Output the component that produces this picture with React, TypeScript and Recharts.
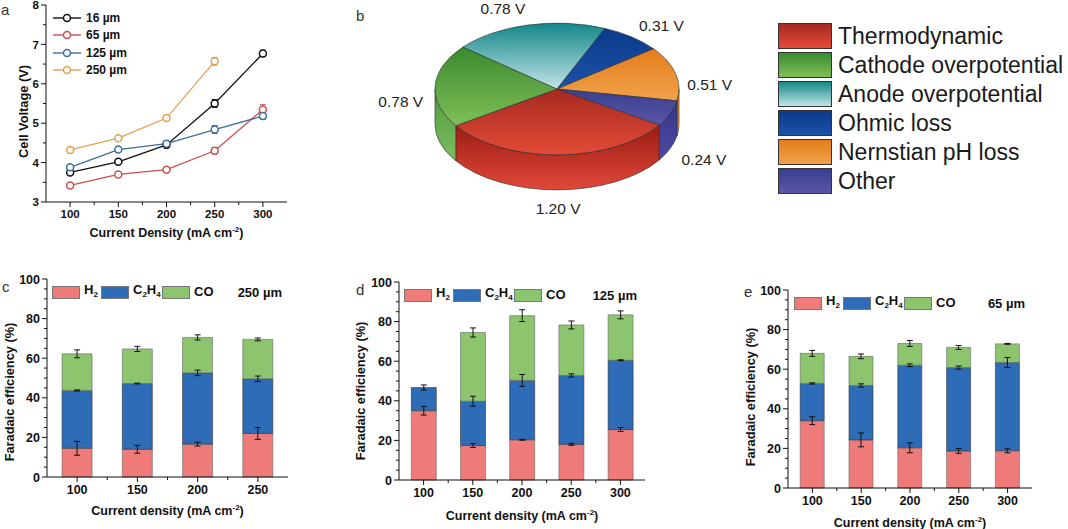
import React from "react";
import {
  LineChart,
  Line,
  BarChart,
  Bar,
  PieChart,
  Pie,
  XAxis,
  YAxis,
  ErrorBar,
  Legend,
} from "recharts";

const FONT = "'Liberation Sans', Arial, Helvetica, sans-serif";
const INK = "#111";
const FRAME = "#999";

// ---- panel a: cell voltage vs current density
const currentA = [100, 150, 200, 250, 300];
const volt16 = [3.75, 4.02, 4.45, 5.5, 6.77];
const err16 = [0.03, 0.03, 0.03, 0.1, 0.08];
const volt65 = [3.42, 3.7, 3.82, 4.3, 5.35];
const err65 = [0.03, 0.03, 0.05, 0.08, 0.12];
const volt125 = [3.88, 4.33, 4.48, 4.84, 5.18];
const err125 = [0.03, 0.03, 0.07, 0.1, 0.08];
const volt250 = [4.32, 4.62, 5.13, 6.57, null];
const err250 = [0.03, 0.03, 0.03, 0.1, null];
const voltTicksX = [100, 125, 150, 175, 200, 225, 250, 275, 300];
const voltTicksY = [3, 3.5, 4, 4.5, 5, 5.5, 6, 6.5, 7, 7.5, 8];

// ---- panel b: voltage breakdown
const lossNames = [
  "Thermodynamic",
  "Cathode overpotential",
  "Anode overpotential",
  "Ohmic loss",
  "Nernstian pH loss",
  "Other",
];
const lossVolts = [1.2, 0.78, 0.78, 0.31, 0.51, 0.24];

// ---- panels c-e: faradaic efficiency
const feTicks = [0, 5, 10, 15, 20, 25, 30, 35, 40, 45, 50, 55, 60, 65, 70, 75, 80, 85, 90, 95, 100];

const cd250 = ["100", "150", "200", "250"];
const h2_250 = [14.5, 14, 16.6, 22];
const c2h4_250 = [29.2, 33.2, 36, 27.6];
const co_250 = [18.5, 17.5, 17.9, 19.9];
const h2Err250 = [3.5, 2, 1, 3];
const c2h4Err250 = [0.3, 0.2, 1.4, 1.4];
const coErr250 = [2, 1.3, 1.3, 0.7];

const cd125 = ["100", "150", "200", "250", "300"];
const h2_125 = [35, 17.4, 20.3, 18, 25.5];
const c2h4_125 = [11.7, 22.4, 30, 34.8, 35];
const co_125 = [0, 34.7, 32.7, 25.5, 22.9];
const h2Err125 = [2.2, 1, 0.2, 0.5, 1];
const c2h4Err125 = [1.3, 2.5, 3, 0.8, 0.2];
const coErr125 = [0, 2.3, 3, 2, 2];

const cd65 = ["100", "150", "200", "250", "300"];
const h2_65 = [34, 24.3, 20.3, 18.7, 18.8];
const c2h4_65 = [18.8, 27.5, 41.7, 42.1, 44.6];
const co_65 = [15.2, 14.7, 11, 10.2, 9.4];
const h2Err65 = [2, 3.5, 2.5, 1.2, 1];
const c2h4Err65 = [0.3, 0.8, 0.7, 0.8, 2.5];
const coErr65 = [1.5, 1.2, 1.5, 1, 0.2];

const voltRows = currentA.map((c, i) => ({
  c,
  v16: volt16[i], e16: err16[i],
  v65: volt65[i], e65: err65[i],
  v125: volt125[i], e125: err125[i],
  v250: volt250[i], e250: err250[i],
}));

const lineSeries = [
  { key: "v16", err: "e16", name: "16 µm", color: "#111111" },
  { key: "v65", err: "e65", name: "65 µm", color: "#c9504e" },
  { key: "v125", err: "e125", name: "125 µm", color: "#3c6d9f" },
  { key: "v250", err: "e250", name: "250 µm", color: "#e2a04f" },
];

// [top/dark, bottom/light] for top face, and side wall
const PIE_TOP = [
  ["#a52a20", "#e44a37"],
  ["#3b8a30", "#7fbf57"],
  ["#138788", "#c2e4e7"],
  ["#0b3a8a", "#1c52aa"],
  ["#e47c1b", "#f0a24a"],
  ["#393f8f", "#5b56a8"],
];
const PIE_SIDE = [
  ["#9c1c12", "#e0483a"],
  ["#4f9a3c", "#7cbd60"],
  ["#138788", "#6fc0c4"],
  ["#0b3a8a", "#1c52aa"],
  ["#d87418", "#ef9a40"],
  ["#34368a", "#4e4aa2"],
];

const FE_COLORS = { h2: "#ee7b79", c2h4: "#2e6cb7", co: "#8dc46e" };

const makeFeRows = (cd: string[], h2: number[], c2h4: number[], co: number[], eh: number[], ec: number[], eo: number[]) =>
  cd.map((v, i) => ({ cd: v, h2: h2[i], c2h4: c2h4[i], co: co[i], eh2: eh[i], ec2h4: ec[i], eco: eo[i] }));

// ---- shared axis helpers
const xTick = (fontSize: number, isMajor: (v: number) => boolean, half = 0, n = 0) => (p: any) => {
  const { x, y, payload, index } = p;
  const ay = y - 7;
  const major = isMajor(Number(payload.value));
  return (
    <g>
      <line x1={x} x2={x} y1={ay} y2={ay + (major ? 5 : 3)} stroke={INK} />
      {half > 0 && index < n - 1 && <line x1={x + half} x2={x + half} y1={ay} y2={ay + 3} stroke={INK} />}
      {major && (
        <text x={x} y={ay + 7} dy="0.78em" textAnchor="middle" fontSize={fontSize} fontWeight={700} fill={INK} fontFamily={FONT}>
          {payload.value}
        </text>
      )}
    </g>
  );
};

const yTick = (fontSize: number, isMajor: (v: number) => boolean) => (p: any) => {
  const { x, y, payload } = p;
  const ax = x + 7;
  const major = isMajor(Number(payload.value));
  return (
    <g>
      <line x1={ax} x2={ax - (major ? 5 : 3)} y1={y} y2={y} stroke={INK} />
      {major && (
        <text x={ax - 7} y={y} dy="0.36em" textAnchor="end" fontSize={fontSize} fontWeight={700} fill={INK} fontFamily={FONT}>
          {payload.value}
        </text>
      )}
    </g>
  );
};

const xTitle = (text: string, dy: number) => (props: any) => {
  const vb = props.viewBox;
  const x = vb.x + vb.width / 2;
  const y = vb.y + dy;
  return (
    <text x={x} y={y} dy="0.36em" textAnchor="middle" fontSize={12.5} fontWeight={700} fill={INK} fontFamily={FONT}>
      {text} (mA cm<tspan dy={-5} fontSize={8}>-2</tspan>
      <tspan dy={5}>)</tspan>
    </text>
  );
};

const yTitle = (text: string, dx: number, dy: number) => (props: any) => {
  const vb = props.viewBox;
  const x = vb.x + dx;
  const y = vb.y + vb.height / 2 + dy;
  return (
    <text x={x} y={y} dy="0.36em" transform={`rotate(-90 ${x} ${y})`} textAnchor="middle" fontSize={12.8} fontWeight={700} fill={INK} fontFamily={FONT}>
      {text}
    </text>
  );
};

// ---- panel a legend
const VoltLegend = () => (
  <div style={{ display: "flex", flexDirection: "column" }}>
    {lineSeries.map((s) => (
      <div key={s.key} style={{ display: "flex", alignItems: "center", height: 17.5 }}>
        <svg width={28} height={10}>
          <line x1={0} x2={28} y1={5} y2={5} stroke={s.color} strokeWidth={1.4} />
          <circle cx={14} cy={5} r={3.5} fill="#fff" stroke={s.color} strokeWidth={1.5} />
        </svg>
        <span style={{ marginLeft: 5, fontSize: 12, fontWeight: 700, fontFamily: FONT, color: INK }}>{s.name}</span>
      </div>
    ))}
  </div>
);

function VoltagePanel() {
  return (
    <LineChart width={300} height={245} data={voltRows} margin={{ top: 5, right: 13, bottom: 0, left: 0 }}>
      <XAxis
        dataKey="c"
        type="number"
        domain={[75, 325]}
        ticks={voltTicksX}
        interval={0}
        height={43}
        tickSize={5}
        tickLine={false}
        axisLine={{ stroke: INK }}
        tick={xTick(11.5, (v) => v % 50 === 0)}
        label={xTitle("Current Density", 30)}
      />
      <XAxis xAxisId="top" orientation="top" dataKey="c" type="number" domain={[75, 325]} height={0} tick={false} tickLine={false} axisLine={{ stroke: FRAME }} />
      <YAxis
        domain={[3, 8]}
        ticks={voltTicksY}
        interval={0}
        width={46}
        tickSize={5}
        tickLine={false}
        axisLine={{ stroke: INK }}
        tick={yTick(11.5, (v) => Number.isInteger(v))}
        label={yTitle("Cell Voltage (V)", 23, 8)}
      />
      <YAxis yAxisId="right" orientation="right" domain={[3, 8]} width={0} tick={false} tickLine={false} axisLine={{ stroke: FRAME }} />
      {lineSeries.map((s) => (
        <Line
          key={s.key}
          dataKey={s.key}
          name={s.name}
          stroke={s.color}
          strokeWidth={1.3}
          dot={{ r: 3.5, fill: "#fff", stroke: s.color, strokeWidth: 1.5 }}
          isAnimationActive={false}
        >
          <ErrorBar dataKey={s.err} width={3} stroke={s.color} strokeWidth={1} />
        </Line>
      ))}
      <Legend layout="vertical" align="center" verticalAlign="middle" wrapperStyle={{ left: 53, top: 9, width: 120 }} content={VoltLegend} />
    </LineChart>
  );
}

// ---- panel b: 3D-looking pie drawn from the sector geometry recharts computes
const TILT = 0.54;
const DEPTH = 35;
const RAD = Math.PI / 180;

function renderSlice3D(p: any) {
  const { cx, cy, outerRadius, startAngle, endAngle, midAngle, index, value } = p;
  const rx = outerRadius;
  const ry = outerRadius * TILT;
  const t0 = -startAngle;
  const t1 = -endAngle;
  const at = (t: number, dy = 0) =>
    `${(cx + rx * Math.cos(t * RAD)).toFixed(2)} ${(cy + ry * Math.sin(t * RAD) + dy).toFixed(2)}`;
  const large = t1 - t0 > 180 ? 1 : 0;
  const top = `M ${cx} ${cy} L ${at(t0)} A ${rx} ${ry} 0 ${large} 1 ${at(t1)} Z`;
  const sides: string[] = [];
  for (let k = -1; k <= 2; k++) {
    const u0 = Math.max(t0, 360 * k);
    const u1 = Math.min(t1, 360 * k + 180);
    if (u1 - u0 > 0.01) {
      sides.push(`M ${at(u0)} A ${rx} ${ry} 0 0 1 ${at(u1)} L ${at(u1, DEPTH)} A ${rx} ${ry} 0 0 0 ${at(u0, DEPTH)} Z`);
    }
  }
  const c = Math.cos(midAngle * RAD);
  const s = Math.sin(midAngle * RAD);
  const lx = cx + (rx + 12) * c;
  const ly = cy - (ry + 12) * s + (s < 0 ? DEPTH : (DEPTH * (1 - s)) / 2);
  const anchor = c > 0.2 ? "start" : c < -0.2 ? "end" : "middle";
  const dy = s > 0.3 ? "0em" : s < -0.3 ? "0.78em" : "0.36em";
  return (
    <g key={`slice-${index}`}>
      <defs>
        <linearGradient id={`pt${index}`} x1="0" y1="0" x2="0" y2="1">
          <stop offset="0%" stopColor={PIE_TOP[index][0]} />
          <stop offset="100%" stopColor={PIE_TOP[index][1]} />
        </linearGradient>
        <linearGradient id={`ps${index}`} x1="0" y1="0" x2="0" y2="1">
          <stop offset="0%" stopColor={PIE_SIDE[index][0]} />
          <stop offset="100%" stopColor={PIE_SIDE[index][1]} />
        </linearGradient>
      </defs>
      {sides.map((d, i) => (
        <path key={i} d={d} fill={`url(#ps${index})`} stroke="#2a2a2a" strokeWidth={0.6} />
      ))}
      <path d={top} fill={`url(#pt${index})`} stroke="#2a2a2a" strokeWidth={0.6} />
      <text x={lx} y={ly} dy={dy} textAnchor={anchor} fontSize={15.5} fill="#222" fontFamily={FONT}>
        {`${Number(value).toFixed(2)} V`}
      </text>
    </g>
  );
}

const LossLegend = () => (
  <div style={{ display: "flex", flexDirection: "column", gap: 3 }}>
    {lossNames.map((n, i) => (
      <div key={n} style={{ display: "flex", alignItems: "center", height: 26 }}>
        <div
          style={{
            width: 52,
            height: 24,
            border: "1px solid #333",
            background: `linear-gradient(${PIE_TOP[i][0]}, ${PIE_TOP[i][1]})`,
            flexShrink: 0,
          }}
        />
        <span style={{ marginLeft: 6, fontSize: 23, fontFamily: FONT, color: "#1a1a1a", lineHeight: "26px", whiteSpace: "nowrap" }}>
          {n}
        </span>
      </div>
    ))}
  </div>
);

function BreakdownPanel() {
  const rows = lossNames.map((name, i) => ({ name, v: lossVolts[i] }));
  return (
    <PieChart width={728} height={250} margin={{ top: 0, right: 0, bottom: 0, left: 0 }}>
      <Pie
        data={rows}
        dataKey="v"
        nameKey="name"
        cx={217}
        cy={89}
        outerRadius={122}
        startAngle={-33}
        endAngle={-393}
        fill="none"
        stroke="none"
        label={renderSlice3D}
        labelLine={false}
        isAnimationActive={false}
      />
      <Legend layout="vertical" align="center" verticalAlign="middle" wrapperStyle={{ left: 438, top: 23, width: 290 }} content={LossLegend} />
    </PieChart>
  );
}

// ---- panels c-e
const Chem = ({ k }: { k: string }) => {
  const sub = { fontSize: 8, verticalAlign: "-3px" } as React.CSSProperties;
  if (k === "h2") return <span>H<span style={sub}>2</span></span>;
  if (k === "c2h4") return <span>C<span style={sub}>2</span>H<span style={sub}>4</span></span>;
  return <span>CO</span>;
};

const feKeys = ["h2", "c2h4", "co"] as const;
const feItemWidth = [49, 61, 50];

const feLegend = (sample: string) => () => (
  <div style={{ display: "flex", alignItems: "center", fontFamily: FONT, fontWeight: 700, fontSize: 13, color: INK, height: 14 }}>
    {feKeys.map((k, i) => (
      <div key={k} style={{ display: "flex", alignItems: "center", width: feItemWidth[i] }}>
        <div style={{ width: 26, height: 11, background: FE_COLORS[k], border: "1px solid #777", flexShrink: 0 }} />
        <span style={{ marginLeft: 4, lineHeight: "14px" }}>
          <Chem k={k} />
        </span>
      </div>
    ))}
    <span style={{ marginLeft: "auto" }}>{sample}</span>
  </div>
);

type FeProps = {
  rows: any[];
  width: number;
  height: number;
  margin: { top: number; right: number; bottom: number; left: number };
  yWidth: number;
  xHeight: number;
  sample: string;
  xDy: number;
  yDx: number;
  yDy: number;
  legend: { left: number; top: number; width: number };
};

function FEPanel(p: FeProps) {
  const n = p.rows.length;
  const plotW = p.width - p.margin.left - p.margin.right - p.yWidth;
  const band = plotW / n;
  return (
    <BarChart width={p.width} height={p.height} data={p.rows} margin={p.margin} barCategoryGap="25%">
      <XAxis
        dataKey="cd"
        height={p.xHeight}
        interval={0}
        tickSize={5}
        tickLine={false}
        axisLine={{ stroke: INK }}
        tick={xTick(12.5, () => true, band / 2, n)}
        label={xTitle("Current density", p.xDy)}
      />
      <XAxis xAxisId="top" orientation="top" dataKey="cd" height={0} tick={false} tickLine={false} axisLine={{ stroke: FRAME }} />
      <YAxis
        domain={[0, 100]}
        ticks={feTicks}
        interval={0}
        width={p.yWidth}
        tickSize={5}
        tickLine={false}
        axisLine={{ stroke: INK }}
        tick={yTick(12.5, (v) => v % 20 === 0)}
        label={yTitle("Faradaic efficiency (%)", p.yDx, p.yDy)}
      />
      <YAxis yAxisId="right" orientation="right" domain={[0, 100]} width={0} tick={false} tickLine={false} axisLine={{ stroke: FRAME }} />
      <Bar dataKey="h2" stackId="fe" fill={FE_COLORS.h2} stroke="#666" strokeWidth={0.6} isAnimationActive={false}>
        <ErrorBar dataKey="eh2" width={3} stroke={INK} strokeWidth={1} />
      </Bar>
      <Bar dataKey="c2h4" stackId="fe" fill={FE_COLORS.c2h4} stroke="#333" strokeWidth={0.6} isAnimationActive={false}>
        <ErrorBar dataKey="ec2h4" width={3} stroke={INK} strokeWidth={1} />
      </Bar>
      <Bar dataKey="co" stackId="fe" fill={FE_COLORS.co} stroke="#666" strokeWidth={0.6} isAnimationActive={false}>
        <ErrorBar dataKey="eco" width={3} stroke={INK} strokeWidth={1} />
      </Bar>
      <Legend
        layout="vertical"
        align="center"
        verticalAlign="middle"
        wrapperStyle={{ left: p.legend.left, top: p.legend.top, width: p.legend.width }}
        content={feLegend(p.sample)}
      />
    </BarChart>
  );
}

const letterStyle = (left: number, top: number): React.CSSProperties => ({
  position: "absolute",
  left,
  top,
  fontSize: 15,
  lineHeight: "15px",
  fontFamily: FONT,
  color: "#333",
});

export default function App() {
  return (
    <div style={{ position: "absolute", left: 0, top: 0, width: 1068, height: 529, background: "#fff", overflow: "hidden" }}>
      <div style={{ position: "absolute", left: 0, top: 0 }}>
        <VoltagePanel />
      </div>
      <div style={{ position: "absolute", left: 340, top: 0 }}>
        <BreakdownPanel />
      </div>
      <div style={{ position: "absolute", left: 0, top: 260 }}>
        <FEPanel
          rows={makeFeRows(cd250, h2_250, c2h4_250, co_250, h2Err250, c2h4Err250, coErr250)}
          width={300}
          height={269}
          margin={{ top: 19, right: 12, bottom: 0, left: 0 }}
          yWidth={47}
          xHeight={52}
          sample="250 µm"
          xDy={33}
          yDx={9}
          yDy={14}
          legend={{ left: 52, top: 25, width: 230 }}
        />
      </div>
      <div style={{ position: "absolute", left: 350, top: 260 }}>
        <FEPanel
          rows={makeFeRows(cd125, h2_125, c2h4_125, co_125, h2Err125, c2h4Err125, coErr125)}
          width={310}
          height={269}
          margin={{ top: 22, right: 15, bottom: 0, left: 0 }}
          yWidth={49}
          xHeight={49}
          sample="125 µm"
          xDy={35}
          yDx={10}
          yDy={10}
          legend={{ left: 54, top: 28, width: 233 }}
        />
      </div>
      <div style={{ position: "absolute", left: 740, top: 260 }}>
        <FEPanel
          rows={makeFeRows(cd65, h2_65, c2h4_65, co_65, h2Err65, c2h4Err65, coErr65)}
          width={328}
          height={269}
          margin={{ top: 30, right: 36, bottom: 0, left: 0 }}
          yWidth={48}
          xHeight={41}
          sample="65 µm"
          xDy={34}
          yDx={10}
          yDy={8}
          legend={{ left: 54, top: 36, width: 231 }}
        />
      </div>
      <div style={letterStyle(1, 2)}>a</div>
      <div style={letterStyle(356, 8)}>b</div>
      <div style={letterStyle(2, 279)}>c</div>
      <div style={letterStyle(356, 282)}>d</div>
      <div style={letterStyle(744, 284)}>e</div>
    </div>
  );
}
